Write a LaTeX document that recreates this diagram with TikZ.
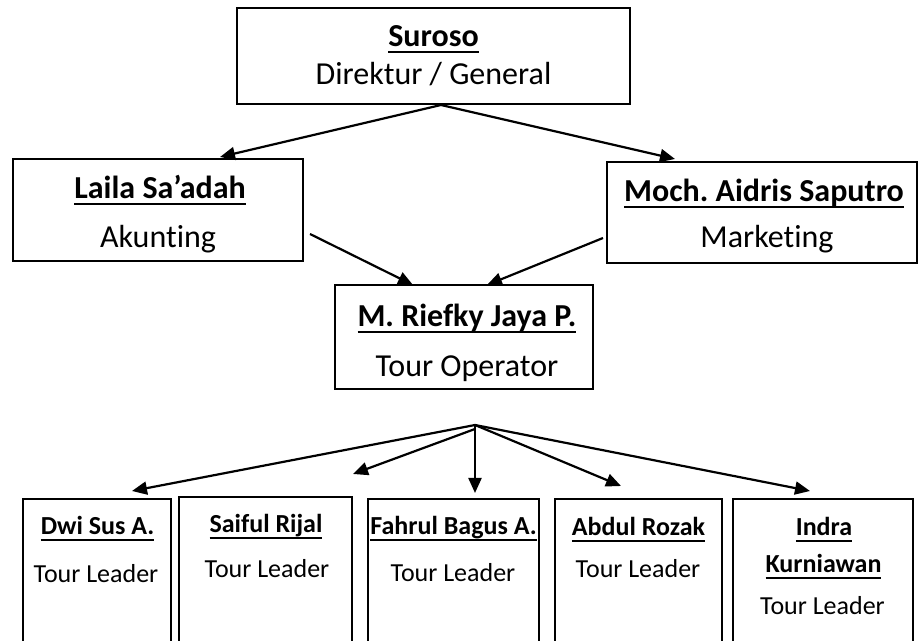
\documentclass[tikz,border=0pt]{standalone}
\usepackage{fontspec}
\setmainfont{Carlito}[Ligatures=NoCommon]
\usetikzlibrary{arrows.meta}
\frenchspacing

% bold name with a heavy underline
\newcommand{\uname}[1]{\setbox0\hbox{\bfseries #1}\rlap{\rule[-3pt]{\wd0}{1.2pt}}\box0}

\begin{document}
\begin{tikzpicture}[x=0.5pt,y=-0.5pt,
    orgbox/.style={draw, line width=1pt, inner sep=0pt},
    bigtext/.style={anchor=base, inner sep=0pt, font=\fontsize{16}{19}\selectfont},
    smalltext/.style={anchor=base, inner sep=0pt, font=\fontsize{13}{16}\selectfont},
    link/.style={line width=1.1pt, -{Triangle[length=7.5pt,width=6.5pt]}}]
        \useasboundingbox (0,0) rectangle (918,641);
        \clip (0,0) rectangle (918,641);

        % Direktur
        \node[orgbox, minimum width=196.5pt, minimum height=48pt] (suroso) at (433.5,56) {};
        \node[bigtext] (suroso-name) at (433.5,47) {\uname{Suroso}};
        \node[bigtext] (suroso-role) at (433.5,85) {Direktur / General};

        % Akunting and Marketing
        \node[orgbox, minimum width=145pt, minimum height=51pt] (laila) at (158,210.5) {};
        \node[bigtext] (laila-name) at (160,199) {\uname{Laila Sa’adah}};
        \node[bigtext] (laila-role) at (158,248) {Akunting};

        \node[orgbox, minimum width=155pt, minimum height=50.5pt] (moch) at (762,212.5) {};
        \node[bigtext] (moch-name) at (764,202) {\uname{Moch. Aidris Saputro}};
        \node[bigtext] (moch-role) at (767,248) {Marketing};

        % Tour Operator
        \node[orgbox, minimum width=129pt, minimum height=52pt] (riefky) at (464,337) {};
        \node[bigtext] (riefky-name) at (467,327) {\uname{M. Riefky Jaya P.}};
        \node[bigtext] (riefky-role) at (467,377) {Tour Operator};

        % Tour Leaders (cut off at the bottom)
        \node[orgbox, minimum width=74pt, minimum height=80.5pt] (dwi) at (97,579.5) {};
        \node[smalltext] (dwi-name) at (97.5,535) {\uname{Dwi Sus A.}};
        \node[smalltext] (dwi-role) at (96,583) {Tour Leader};

        \node[orgbox, minimum width=86.5pt, minimum height=81.5pt] (saiful) at (265.5,578.5) {};
        \node[smalltext] (saiful-name) at (266,533) {\uname{Saiful Rijal}};
        \node[smalltext] (saiful-role) at (267,578) {Tour Leader};

        \node[orgbox, minimum width=85.5pt, minimum height=80.5pt] (fahrul) at (453.5,579.5) {};
        \node[smalltext] (fahrul-name) at (453.5,535) {\uname{Fahrul Bagus A.}};
        \node[smalltext] (fahrul-role) at (453,582) {Tour Leader};

        \node[orgbox, minimum width=83.5pt, minimum height=80.5pt] (abdul) at (638.5,579.5) {};
        \node[smalltext] (abdul-name) at (638.5,536) {\uname{Abdul Rozak}};
        \node[smalltext] (abdul-role) at (638,578) {Tour Leader};

        \node[orgbox, minimum width=90pt, minimum height=80.5pt] (indra) at (823,579.5) {};
        \node[smalltext] (indra-name) at (824,536) {\uname{Indra}};
        \node[smalltext] (indra-name2) at (823.5,573) {\uname{Kurniawan}};
        \node[smalltext] (indra-role) at (822.5,615) {Tour Leader};

        % Arrow ends
        \coordinate (laila-in) at (220,157);
        \coordinate (moch-in) at (675,159);
        \coordinate (laila-out) at (310,234);
        \coordinate (moch-out) at (603,238);
        \coordinate (riefky-inl) at (413,285);
        \coordinate (riefky-inr) at (487,285);
        \coordinate (fan) at (475,425);
        \coordinate (dwi-in) at (132,491);
        \coordinate (saiful-in) at (353,474);
        \coordinate (fahrul-in) at (475,493);
        \coordinate (abdul-in) at (621,486);
        \coordinate (indra-in) at (810,491);

        \draw[link] ([xshift=3.75pt]suroso.south) -- (laila-in);
        \draw[link] ([xshift=3.75pt]suroso.south) -- (moch-in);
        \draw[link] (laila-out) -- (riefky-inl);
        \draw[link] (moch-out) -- (riefky-inr);

        \draw[link] (fan) -- (dwi-in);
        \draw[link] ([yshift=-2pt]fan) -- (saiful-in);
        \draw[link] (fan) -- (fahrul-in);
        \draw[link] (fan) -- (abdul-in);
        \draw[link] (fan) -- (indra-in);

    \end{tikzpicture}
\end{document}
